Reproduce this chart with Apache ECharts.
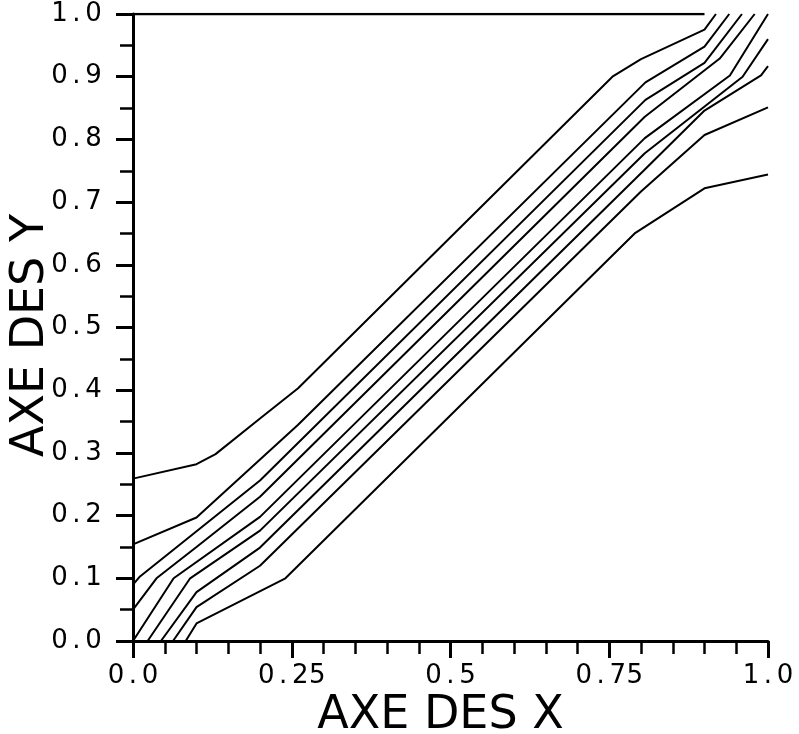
<!DOCTYPE html>
<html>
<head>
<meta charset="utf-8">
<script src="https://cdn.jsdelivr.net/npm/echarts@6/dist/echarts.min.js"></script>
<style>
html,body{margin:0;padding:0;background:#fff;}
#chart{width:799px;height:734px;}
</style>
</head>
<body>
<div id="chart"></div>
<script>
// Tick labels
const xTickLabels = ['0.0', '0.25', '0.5', '0.75', '1.0'];
const yTickLabels = ['0.0', '0.1', '0.2', '0.3', '0.4', '0.5', '0.6', '0.7', '0.8', '0.9', '1.0'];

// Axis titles
const xTitle = 'AXE DES X';
const yTitle = 'AXE DES Y';

// Top frame segment
const frameTop = [[0, 1.0], [0.9, 1.0]];

// Contour lines (x, y), upper-left to lower-right
const contourA = [[0, 0.259], [0.1, 0.282], [0.13, 0.298], [0.2, 0.355], [0.26, 0.403], [0.755, 0.9], [0.8, 0.928], [0.9, 0.975], [0.918, 1.0]];
const contourB = [[0, 0.154], [0.1, 0.197], [0.26, 0.345], [0.807, 0.891], [0.9, 0.948], [0.939, 1.0]];
const contourC = [[0, 0.09], [0.011, 0.103], [0.2, 0.256], [0.807, 0.863], [0.9, 0.922], [0.959, 1.0]];
const contourD = [[0, 0.05], [0.037, 0.1], [0.1, 0.15], [0.2, 0.23], [0.806, 0.836], [0.924, 0.929], [0.979, 1.0]];
const contourE = [[0, 0], [0.064, 0.1], [0.2, 0.198], [0.806, 0.802], [0.94, 0.902], [1.0, 1.0]];
const contourF = [[0.023, 0], [0.09, 0.1], [0.2, 0.176], [0.806, 0.778], [0.96, 0.9], [1.0, 0.96]];
const contourG = [[0.044, 0], [0.1, 0.078], [0.2, 0.149], [0.806, 0.752], [0.9, 0.846], [0.989, 0.902], [1.0, 0.917]];
const contourH = [[0.063, 0], [0.1, 0.054], [0.2, 0.12], [0.8, 0.717], [0.9, 0.807], [1.0, 0.851]];
const contourI = [[0.083, 0], [0.1, 0.028], [0.24, 0.1], [0.79, 0.65], [0.9, 0.722], [1.0, 0.744]];

const contours = [contourA, contourB, contourC, contourD, contourE, contourF, contourG, contourH, contourI];

const FONT = 'DejaVu Sans';
const chart = echarts.init(document.getElementById('chart'), null, {renderer: 'canvas'});

// Tick labels drawn with each character in a fixed-width cell (wide letter spacing)
function spaced(s) {
  return s.split('').map(function (ch) { return '{c|' + ch + '}'; }).join('');
}
const cellRich = {c: {width: 17, align: 'center', fontFamily: FONT, fontSize: 26, color: '#000'}};

const lineSeries = contours.map(function (d) {
  return {
    type: 'line', data: d, showSymbol: false, symbol: 'none',
    lineStyle: {color: '#000', width: 2}, silent: true, animation: false, clip: true
  };
});
lineSeries.push({
  type: 'line', data: frameTop, showSymbol: false, symbol: 'none',
  lineStyle: {color: '#000', width: 2.5}, silent: true, animation: false
});

chart.setOption({
  backgroundColor: '#fff',
  animation: false,
  grid: {left: 133, right: 31, top: 14, bottom: 93, containLabel: false, outerBoundsMode: 'none'},
  xAxis: {
    type: 'value', min: 0, max: 1, interval: 0.25,
    name: xTitle, nameLocation: 'middle', nameGap: 52, nameMoveOverlap: false,
    nameTextStyle: {fontFamily: FONT, fontSize: 46, color: '#000', padding: [0, 20, 0, 0]},
    axisLine: {show: true, onZero: false, lineStyle: {color: '#000', width: 3}},
    axisTick: {show: true, length: 17, lineStyle: {color: '#000', width: 3}},
    minorTick: {show: true, splitNumber: 5, length: 13, lineStyle: {color: '#000', width: 2.5}},
    splitLine: {show: false},
    minorSplitLine: {show: false},
    axisLabel: {
      margin: 22, fontFamily: FONT, fontSize: 26, color: '#000', rich: cellRich,
      hideOverlap: false, showMinLabel: true, showMaxLabel: true,
      formatter: function (v) { return spaced(xTickLabels[Math.round(v / 0.25)]); }
    }
  },
  yAxis: {
    type: 'value', min: 0, max: 1, interval: 0.1,
    name: yTitle, nameLocation: 'middle', nameGap: 79, nameRotate: 90, nameMoveOverlap: false,
    nameTextStyle: {fontFamily: FONT, fontSize: 46, color: '#000', padding: [0, 16, 0, 0]},
    axisLine: {show: true, onZero: false, lineStyle: {color: '#000', width: 3}},
    axisTick: {show: true, length: 17, lineStyle: {color: '#000', width: 3}},
    minorTick: {show: true, splitNumber: 2, length: 13, lineStyle: {color: '#000', width: 2.5}},
    splitLine: {show: false},
    minorSplitLine: {show: false},
    axisLabel: {
      margin: 31, fontFamily: FONT, fontSize: 26, color: '#000', rich: cellRich,
      showMinLabel: true, showMaxLabel: true,
      formatter: function (v) { return spaced(yTickLabels[Math.round(v * 10)]); }
    }
  },
  series: lineSeries
});
</script>
</body>
</html>
